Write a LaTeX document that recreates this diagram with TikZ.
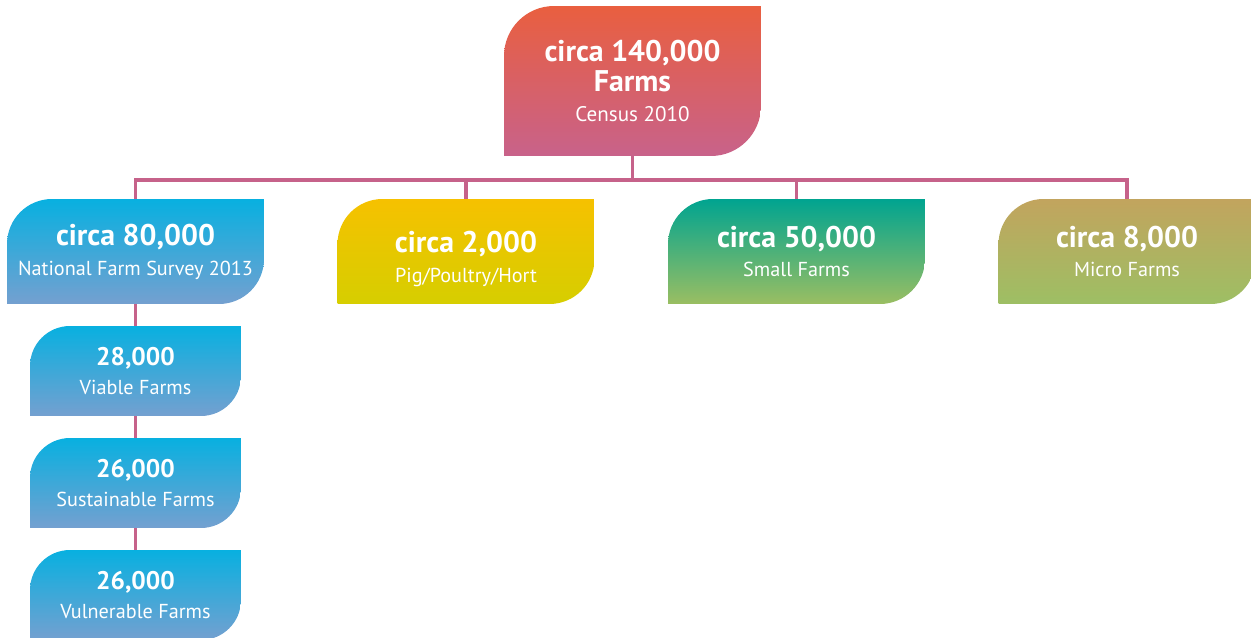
\documentclass[tikz,border=0pt]{standalone}
\usepackage{fontspec}
\setmainfont{PT Sans}
\usetikzlibrary{calc}

\definecolor{linkpink}{HTML}{C6628A}
\definecolor{redtop}{HTML}{E95F3F}
\definecolor{redbot}{HTML}{C8628A}
\definecolor{bluetop}{HTML}{08B0E0}
\definecolor{bluebot}{HTML}{74A0D0}
\definecolor{yeltop}{HTML}{F6C100}
\definecolor{yelbot}{HTML}{D6CE00}
\definecolor{grntop}{HTML}{00A490}
\definecolor{grnmid}{HTML}{58AE86}
\definecolor{grnbot}{HTML}{9ABE62}
\definecolor{olvtop}{HTML}{C2A45E}
\definecolor{olvbot}{HTML}{9DBF64}

\newcommand{\headfig}[1]{\bfseries\fontsize{17}{17}\selectfont #1}
\newcommand{\midfig}[1]{\bfseries\fontsize{17}{17}\selectfont #1}
\newcommand{\lowfig}[1]{\bfseries\fontsize{14.5}{17}\selectfont #1}
\newcommand{\subtxt}[1]{\fontsize{11.5}{17}\selectfont #1}

\begin{document}
\begin{tikzpicture}[x=0.02cm,y=0.02cm,
    leaf/.style 2 args={inner sep=0pt, align=center, text=white,
      font=\fontsize{12}{17}\selectfont,
      path picture={\shade[#1]
        (path picture bounding box.south west)
        -- ([yshift=-#2]path picture bounding box.north west)
        arc[start angle=180, end angle=90, radius=#2]
        -- (path picture bounding box.north east)
        -- ([yshift=#2]path picture bounding box.south east)
        arc[start angle=0, end angle=-90, radius=#2]
        -- cycle;}},
    rowbox/.style={minimum width=5.14cm, minimum height=2.1cm},
    subbox/.style={minimum width=4.22cm, minimum height=1.8cm,
      leaf={top color=bluetop, bottom color=bluebot}{0.8cm}},
    link/.style={draw=linkpink, line width=2.2pt}]
    \useasboundingbox (0,0) rectangle (1251,-638);

    % top of the tree
    \node[minimum width=5.14cm, minimum height=3cm,
      leaf={top color=redtop, bottom color=redbot}{1cm}] (census) at (632.5,-81)
      {\headfig{circa 140,000}\\ \headfig{Farms}\\ \fontsize{12}{17}\selectfont Census 2010};

    % second row
    \node[rowbox, leaf={top color=bluetop, bottom color=bluebot}{0.9cm}] (survey) at (135.5,-251.5)
      {\midfig{circa 80,000}\\ \subtxt{National Farm Survey 2013}};
    \node[rowbox, leaf={top color=yeltop, bottom color=yelbot}{0.9cm}] (pig) at (466,-251.5)
      {\rule{0pt}{21pt}\midfig{circa 2,000}\\ \subtxt{Pig/Poultry/Hort}};
    \node[rowbox, leaf={top color=grntop, middle color=grnmid, bottom color=grnbot}{0.9cm}] (small) at (796.5,-251.5)
      {\midfig{circa 50,000}\\ \subtxt{Small Farms}};
    \node[rowbox, leaf={top color=olvtop, bottom color=olvbot}{0.9cm}] (micro) at (1127,-251.5)
      {\midfig{circa 8,000}\\ \subtxt{Micro Farms}};

    % survey breakdown
    \node[subbox] (viable) at (135.5,-371) {\lowfig{28,000}\\ \subtxt{Viable Farms}};
    \node[subbox] (sustain) at (135.5,-483) {\lowfig{26,000}\\ \subtxt{Sustainable Farms}};
    \node[subbox] (vulner) at (135.5,-595) {\lowfig{26,000}\\ \subtxt{Vulnerable Farms}};

    \coordinate (trunk) at (632.5,-180);
    \draw[link] (census.south) -- (trunk);
    \draw[link] (survey.north) |- (trunk) -| (micro.north);
    \draw[link] (pig.north) -- (pig.north |- trunk);
    \draw[link] (small.north) -- (small.north |- trunk);

    \draw[link] (survey.south) -- (viable.north);
    \draw[link] (viable.south) -- (sustain.north);
    \draw[link] (sustain.south) -- (vulner.north);
\end{tikzpicture}
\end{document}
